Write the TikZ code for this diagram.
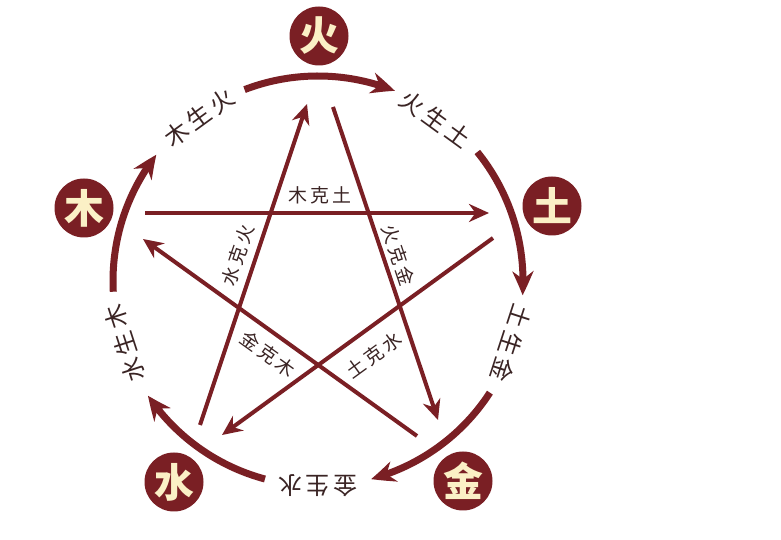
\documentclass[tikz,border=0pt]{standalone}
\usepackage{fontspec}
\newfontfamily\cjk{Noto Sans CJK SC}
\usetikzlibrary{arrows.meta,bending}
\definecolor{wxred}{HTML}{7A1F24}
\definecolor{wxcream}{HTML}{FBF0C6}
\definecolor{wxtext}{HTML}{3A2424}
\newcommand\gsp{\hspace{4bp}}
\newcommand\ksp{\hspace{3bp}}
\begin{document}
\begin{tikzpicture}[x=1bp,y=1bp,
  badge/.style={circle, fill=wxred, minimum size=59bp, inner sep=0pt, text=wxcream,
    font=\cjk\bfseries\fontsize{40}{40}\selectfont},
  shengarc/.style={wxred, line width=7bp, -{Stealth[length=24bp,width=21bp,bend]}},
  kearrow/.style={wxred, line width=4bp, -{Stealth[length=20bp,width=18bp]}},
  shenglbl/.style={text=wxtext, font=\cjk\fontsize{24}{24}\selectfont, inner sep=0pt},
  kelbl/.style={text=wxtext, font=\cjk\fontsize{19}{19}\selectfont, inner sep=0pt}]
\useasboundingbox (0,0) rectangle (781,540);
\fill[white] (0,0) rectangle (781,540);
\coordinate (C) at (318,259);

% element badges
\node[badge] (huo)  at (319,504) {火};
\node[badge] (mu)   at (84,332)  {木};
\node[badge] (tu)   at (552,334) {土};
\node[badge] (shui) at (174,58)  {水};
\node[badge] (jin)  at (463,59)  {金};

% generation cycle arcs
\coordinate (smu)   at ([shift={(183:205)}]C);
\coordinate (shuo)  at ([shift={(111:205)}]C);
\coordinate (stu)   at ([shift={(39:205)}]C);
\coordinate (sjin)  at ([shift={(-33:205)}]C);
\coordinate (sshui) at ([shift={(-105:205)}]C);
\draw[shengarc] (smu)   arc[start angle=183,  end angle=142,  radius=205];
\draw[shengarc] (shuo)  arc[start angle=111,  end angle=68,   radius=205];
\draw[shengarc] (stu)   arc[start angle=39,   end angle=-4,   radius=205];
\draw[shengarc] (sjin)  arc[start angle=-33,  end angle=-75,  radius=205];
\draw[shengarc] (sshui) arc[start angle=-105, end angle=-146, radius=205];

% generation labels
\node[shenglbl, rotate=36]   (g1) at ([shift={(126:202)}]C)  {木\gsp 生\gsp 火};
\node[shenglbl, rotate=-36]  (g2) at ([shift={(54:200)}]C)   {火\gsp 生\gsp 土};
\node[shenglbl, rotate=-108] (g3) at ([shift={(-18:203)}]C)  {土\gsp 生\gsp 金};
\node[shenglbl, rotate=-180] (g4) at ([shift={(-90:205)}]C)  {金\gsp 生\gsp 水};
\node[shenglbl, rotate=108]  (g5) at ([shift={(198:203)}]C)  {水\gsp 生\gsp 木};

% control (star) arrows
\coordinate (k1s) at (145,327); \coordinate (k1e) at (489,327);
\coordinate (k2s) at (333,433); \coordinate (k2e) at (438,120);
\coordinate (k3s) at (493,302); \coordinate (k3e) at (222,105);
\coordinate (k4s) at (200,115); \coordinate (k4e) at (307,436);
\coordinate (k5s) at (417,104); \coordinate (k5e) at (143,301);
\draw[kearrow] (k1s) -- (k1e);
\draw[kearrow] (k2s) -- (k2e);
\draw[kearrow] (k3s) -- (k3e);
\draw[kearrow] (k4s) -- (k4e);
\draw[kearrow] (k5s) -- (k5e);

% control labels
\node[kelbl] (c1) at (320,345) {木\ksp 克\ksp 土};
\node[kelbl, rotate=71]    (c2) at (238,285) {水\ksp 克\ksp 火};
\node[kelbl, rotate=-71.5] (c3) at (398,285) {火\ksp 克\ksp 金};
\node[kelbl, rotate=-35.6] (c4) at (268,186) {金\ksp 克\ksp 木};
\node[kelbl, rotate=36]    (c5) at (374,185) {土\ksp 克\ksp 水};
\end{tikzpicture}
\end{document}
